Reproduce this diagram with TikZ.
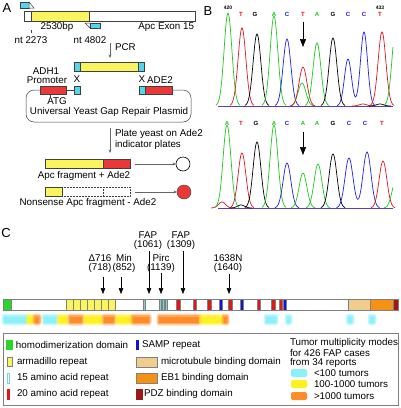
\documentclass[tikz,border=0pt]{standalone}
\usepackage{fontspec}
\setmainfont{Liberation Sans}
\usetikzlibrary{arrows.meta}
\definecolor{ayel}{RGB}{250,245,95}
\definecolor{acyan}{RGB}{80,215,235}
\definecolor{ared}{RGB}{235,55,55}
\definecolor{cgreen}{RGB}{40,215,40}
\definecolor{ccyan}{RGB}{120,215,215}
\definecolor{cred}{RGB}{230,20,20}
\definecolor{cblue}{RGB}{20,20,215}
\definecolor{ctan}{RGB}{240,205,140}
\definecolor{corange}{RGB}{245,145,20}
\definecolor{cdred}{RGB}{155,25,25}
\definecolor{hcyan}{RGB}{140,240,250}
\definecolor{hyel}{RGB}{255,240,30}
\definecolor{horange}{RGB}{255,140,40}
\definecolor{tgreen}{RGB}{30,200,30}
\definecolor{tred}{RGB}{225,20,30}
\definecolor{tblue}{RGB}{30,30,230}
\definecolor{tbase}{RGB}{90,60,200}
\newcommand\chpk[5]{\draw[#1,trace] plot[domain=-2.2:2.2,samples=31,smooth] ({#2+#5*\x},{#4-#3*exp(-(\x)*(\x))});}
\newcommand\heat[3]{%
 \fill[#3,opacity=0.35,rounded corners=3pt] (#1-1.5,313.5) rectangle (#2+1.5,325.5);
 \fill[#3,opacity=0.6,rounded corners=2pt] (#1-0.5,315) rectangle (#2+0.5,324);
 \fill[#3] (#1+1,316.5) rectangle (#2-1,322.5);}
\begin{document}
\begin{tikzpicture}[x=1pt,y=-1pt,font=\fontsize{9.8}{11}\selectfont,
 every node/.style={inner sep=0pt,outer sep=0pt},
 panel/.style={font=\fontsize{13}{14}\selectfont},
 ol/.style={draw=black!75,line width=0.5pt},
 barol/.style={draw=black!50,line width=0.4pt},
 garr/.style={draw=black!60,line width=0.5pt,-{Stealth[length=3.5pt,width=2.8pt]}},
 carr/.style={draw=black,line width=0.6pt,-{Triangle[length=6pt,width=4.5pt]}},
 barr/.style={draw=black,line width=0.6pt,-{Triangle[length=8pt,width=6pt]}},
 seq/.style={font=\fontsize{6}{6}\selectfont\bfseries},
 num/.style={font=\fontsize{5}{5}\selectfont\bfseries},
 trace/.style={line width=0.7pt},
 leg/.style={anchor=west}]
\useasboundingbox (0,0) rectangle (400,408);
\fill[white] (0,0) rectangle (400,408);

% ================= Panel A =================
\node[panel] (labA) at (7,8) {A};
% forward primer
\filldraw[fill=acyan,ol] (20,2) rectangle (29,8);
\filldraw[fill=white,ol] (29,2) -- (34,8) -- (29,8) -- cycle;
% exon bar
\filldraw[fill=white,ol] (24,11) rectangle (195,21);
\filldraw[fill=ayel,ol] (31,11) rectangle (89,21);
% reverse primer
\filldraw[fill=white,ol] (85,23) -- (90,23) -- (90,28) -- cycle;
\filldraw[fill=acyan,ol] (90,23) rectangle (100,28);
\node (bp) at (57,27) {2530bp};
\node[anchor=east] (exon) at (194,27) {Apc Exon 15};
\draw[black!75,line width=0.5pt] (31,30) -- (31,33);
\node (nt1) at (31,40) {nt 2273};
\node (nt2) at (90,40) {nt 4802};
\coordinate (pcrs) at (110,43);
\coordinate (pcre) at (110,58);
\draw[garr] (pcrs) -- (pcre);
\node[anchor=west] (pcr) at (115,47) {PCR};
% PCR product
\filldraw[fill=acyan,ol] (74,62) rectangle (80,71);
\filldraw[fill=ayel,ol] (80,62) rectangle (138,71);
\filldraw[fill=acyan,ol] (138,62) rectangle (144,71);
\node (adh) at (46,71) {ADH1};
\node (prom) at (47,80) {Promoter};
\node (x1) at (77,79) {X};
\node (x2) at (142,79) {X};
\node (ade) at (160,80) {ADE2};
% plasmid
\draw[ol,rounded corners=8pt] (40,90) -- (26,90) -- (26,122) -- (191,122) -- (191,90) -- (172,90);
\draw[ol] (66,90) -- (74,90);
\filldraw[fill=ared,ol] (40,86) rectangle (66,94);
\filldraw[fill=acyan,ol] (74,86) rectangle (80,94);
\filldraw[fill=acyan,ol] (139,86) rectangle (145,94);
\filldraw[fill=ared,ol] (145,86) rectangle (172,94);
\draw[black!75,line width=0.5pt] (50,94) -- (50,97);
\node (atg) at (57,101) {ATG};
\node (plasmid) at (109,112) {Universal Yeast Gap Repair Plasmid};
\coordinate (plts) at (110,128);
\coordinate (plte) at (110,153);
\draw[garr] (plts) -- (plte);
\node[anchor=west] (pl1) at (115,134) {Plate yeast on Ade2};
\node[anchor=west] (pl2) at (115,145) {indicator plates};
% fragments
\filldraw[fill=ayel,ol] (45,159) rectangle (103,168);
\filldraw[fill=ared,ol] (103,159) rectangle (130,168);
\node (f1) at (84,176) {Apc fragment + Ade2};
\node[circle,draw=black,line width=0.6pt,minimum size=14pt,fill=white] (c1) at (183,164) {};
\coordinate (a1s) at (135,164);
\draw[garr] (a1s) -- (c1.west);
\filldraw[fill=ayel,ol] (45,187) rectangle (62,196);
\draw[ol,densely dotted] (62,187) rectangle (130,196);
\draw[ol,densely dotted] (103,187) -- (103,196);
\node (f2) at (88,203) {Nonsense Apc fragment - Ade2};
\node[circle,draw=black!70,line width=0.5pt,minimum size=14pt,fill=ared] (c2) at (184,192) {};
\coordinate (a2s) at (135,192);
\draw[garr] (a2s) -- (c2.west);

% ================= Panel B =================
\node[panel] (labB) at (208,11) {B};
% top trace
\draw[tbase,line width=0.6pt] (218,106) -- (393,106);
\chpk{tgreen}{228}{93}{106}{5.5}
\chpk{tred}{242}{78}{106}{5.5}
\chpk{black}{257}{72}{106}{5.5}
\chpk{tgreen}{274}{90}{106}{5.5}
\chpk{tblue}{287}{67}{106}{5.5}
\chpk{tgreen}{302}{23}{106}{5.5}
\chpk{tred}{303}{39}{106}{5.5}
\chpk{tgreen}{317}{63}{106}{5.5}
\chpk{black}{333}{68}{106}{5.5}
\chpk{tred}{363}{2}{106}{5}
\chpk{black}{380}{2}{106}{5}
\draw[tblue,trace] plot[domain=-2.2:5.4,samples=60,smooth] ({348+5*\x},{106-47*exp(-(\x)*(\x))-74*exp(-(\x-3.2)*(\x-3.2))});
\chpk{tred}{382}{74}{106}{5.5}
\draw[tgreen,trace] plot[domain=-2.2:-0.55,samples=15,smooth] ({396+5.5*\x},{106-80*exp(-(\x)*(\x))});
\node[num] (n420) at (228,8) {420};
\node[num] (n433) at (380,8) {433};
\node[seq,text=tred] (t1) at (241,14) {T};
\node[seq,text=black] (t2) at (255,14) {G};
\node[seq,text=tgreen] (t3) at (274,14) {A};
\node[seq,text=tblue] (t4) at (287,14) {C};
\node[seq,text=tred] (t5) at (303,14) {T};
\node[seq,text=tgreen] (t6) at (317,14) {A};
\node[seq,text=black] (t7) at (333,14) {G};
\node[seq,text=tblue] (t8) at (348,14) {C};
\node[seq,text=tblue] (t9) at (364,14) {C};
\node[seq,text=tred] (t10) at (380,14) {T};
\coordinate (ba1) at (303,22);
\coordinate (ba2) at (303,47);
\draw[barr] (ba1) -- (ba2);
% bottom trace
\draw[tbase,line width=0.6pt] (218,208) -- (393,208);
\chpk{tred}{222}{6}{208}{5}
\chpk{black}{241}{3}{208}{5}
\chpk{tgreen}{227}{83}{208}{5.5}
\chpk{tred}{242}{55}{208}{5.5}
\chpk{black}{257}{66}{208}{5.5}
\chpk{tgreen}{274}{83}{208}{5.5}
\chpk{tblue}{287}{45}{208}{5.5}
\chpk{tgreen}{303}{35}{208}{5.5}
\chpk{tgreen}{318}{44}{208}{5.5}
\chpk{black}{333}{54}{208}{5.5}
\draw[tblue,trace] plot[domain=-2.2:5.36,samples=60,smooth] ({349+5.7*\x},{208-50*exp(-(\x)*(\x))-56*exp(-(\x-3.16)*(\x-3.16))});
\chpk{tred}{383}{47}{208}{5.5}
\draw[tgreen,trace] plot[domain=-2.2:-0.55,samples=15,smooth] ({396+5.5*\x},{208-28*exp(-(\x)*(\x))});
\node[seq,text=tgreen] (u1) at (227,123) {A};
\node[seq,text=tred] (u2) at (241,123) {T};
\node[seq,text=black] (u3) at (256,123) {G};
\node[seq,text=tgreen] (u4) at (274,123) {A};
\node[seq,text=tblue] (u5) at (287,123) {C};
\node[seq,text=tgreen] (u6) at (303,123) {A};
\node[seq,text=tgreen] (u7) at (317,123) {A};
\node[seq,text=black] (u8) at (333,123) {G};
\node[seq,text=tblue] (u9) at (349,123) {C};
\node[seq,text=tblue] (u10) at (365,123) {C};
\node[seq,text=tred] (u11) at (382,123) {T};
\coordinate (bb1) at (303,132);
\coordinate (bb2) at (303,155);
\draw[barr] (bb1) -- (bb2);

% ================= Panel C =================
\node[panel] (labC) at (6,233) {C};
\node (d716) at (100,258) {Δ716};
\node (d718) at (100,268) {(718)};
\node (min) at (124,258) {Min};
\node (m852) at (124,268) {(852)};
\node (fap1) at (148,235) {FAP};
\node (f1061) at (148,245) {(1061)};
\node (pirc) at (161,258) {Pirc};
\node (p1139) at (161,268) {(1139)};
\node (fap2) at (181,235) {FAP};
\node (f1309) at (181,245) {(1309)};
\node (n1638) at (228,258) {1638N};
\node (n1640) at (228,268) {(1640)};
\coordinate (s1) at (103,277); \coordinate (e1) at (103,294);
\coordinate (s2) at (121,277); \coordinate (e2) at (121,294);
\coordinate (s3) at (149,251); \coordinate (e3) at (149,294);
\coordinate (s4) at (161,273); \coordinate (e4) at (161,294);
\coordinate (s5) at (183,251); \coordinate (e5) at (183,294);
\coordinate (s6) at (229,274); \coordinate (e6) at (229,294);
\draw[carr] (s1) -- (e1);
\draw[carr] (s2) -- (e2);
\draw[carr] (s3) -- (e3);
\draw[carr] (s4) -- (e4);
\draw[carr] (s5) -- (e5);
\draw[carr] (s6) -- (e6);
% protein bar
\filldraw[fill=white,barol] (3,299) rectangle (398,310);
\filldraw[fill=cgreen,barol] (3,299) rectangle (11,310);
\foreach \a in {66,73,80,87,94,101,108}{\filldraw[fill=ayel,barol] (\a,299) rectangle (\a+7,310);}
\foreach \a in {143.5,159.5,162.5,165.5}{\filldraw[fill=ccyan,barol] (\a,299) rectangle (\a+2,310);}
\foreach \a in {176.5,193,207.5,228.5,257,271.5,279}{\filldraw[fill=cred,barol] (\a,299) rectangle (\a+3.5,310);}
\foreach \a in {219,240,283}{\filldraw[fill=cblue,barol] (\a,299) rectangle (\a+3,310);}
\filldraw[fill=ctan,barol] (348,299) rectangle (370,310);
\filldraw[fill=corange,barol] (370,299) rectangle (393,310);
\filldraw[fill=cdred,barol] (393,299) rectangle (398,310);
% heat strip
\heat{3}{27}{hcyan}
\heat{27}{34}{hyel}
\heat{34}{40}{horange}
\heat{43}{57}{hcyan}
\heat{58}{68}{hyel}
\heat{69}{83}{horange}
\heat{84}{102}{hyel}
\heat{103}{115}{horange}
\heat{116}{132}{hyel}
\heat{132}{150}{horange}
\heat{158}{200}{horange}
\heat{200}{223}{hyel}
\heat{223}{228}{horange}
\heat{265}{277}{hcyan}
\heat{286}{291}{hcyan}
\heat{347}{353}{hcyan}
\heat{369}{375}{hcyan}
% legend
\draw[black!50,line width=0.6pt] (3,333) rectangle (398,405);
\fill[cgreen] (6,340) rectangle (13,350);
\node[leg] (l1) at (16,345) {homodimerization domain};
\fill[ayel,draw=black!50,line width=0.3pt] (7,357) rectangle (12,366);
\node[leg] (l2) at (17,362) {armadillo repeat};
\fill[white,draw=ccyan,line width=0.6pt] (7.5,373) rectangle (9.5,383);
\node[leg] (l3) at (17,378) {15 amino acid repeat};
\fill[cred] (7,389) rectangle (9.5,400);
\node[leg] (l4) at (17,394) {20 amino acid repeat};
\fill[cblue] (136,340) rectangle (138.5,350);
\node[leg] (l5) at (142,345) {SAMP repeat};
\fill[ctan,draw=black!50,line width=0.3pt] (136,357) rectangle (157,367);
\node[leg] (l6) at (161,362) {microtubule binding domain};
\fill[corange,draw=black!50,line width=0.3pt] (136,373) rectangle (157,383);
\node[leg] (l7) at (161,378) {EB1 binding domain};
\fill[cdred] (136,389) rectangle (143,400);
\node[leg] (l8) at (144,394) {PDZ binding domain};
\node[leg] (l9) at (290,343) {Tumor multiplicity modes};
\node[leg] (l10) at (290,353) {for 426 FAP cases};
\node[leg] (l11) at (290,363) {from 34 reports};
\fill[hcyan,rounded corners=1.5pt] (291,369) rectangle (307,377);
\node[leg] (l12) at (314,373) {<100 tumors};
\fill[hyel,rounded corners=1.5pt] (291,380) rectangle (307,388);
\node[leg] (l13) at (314,384) {100-1000 tumors};
\fill[horange,rounded corners=1.5pt] (291,392) rectangle (307,400);
\node[leg] (l14) at (314,396) {>1000 tumors};
\end{tikzpicture}
\end{document}
